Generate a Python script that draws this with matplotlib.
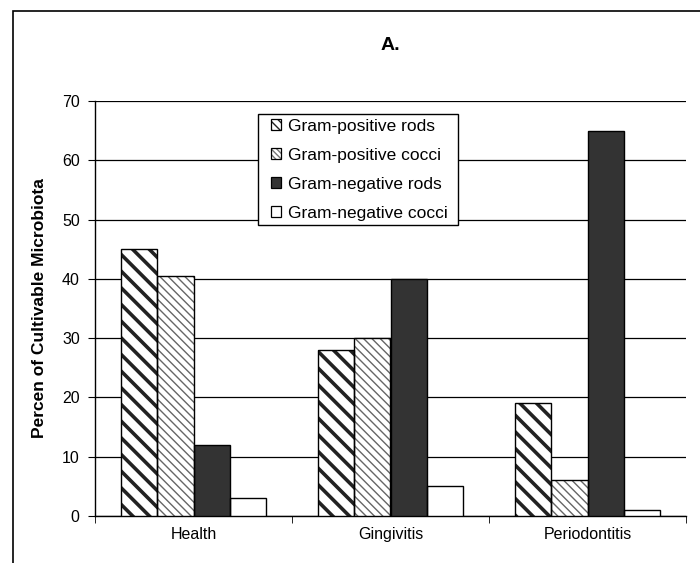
import matplotlib
matplotlib.use("Agg")
import matplotlib.pyplot as plt
from matplotlib.patches import Rectangle
import numpy as np

categories = ["Health", "Gingivitis", "Periodontitis"]
series_names = ["Gram-positive rods", "Gram-positive cocci", "Gram-negative rods", "Gram-negative cocci"]
gp_rods = [45, 28, 19]
gp_cocci = [40.5, 30, 6]
gn_rods = [12, 40, 65]
gn_cocci = [3, 5, 1]
yticks = [0, 10, 20, 30, 40, 50, 60, 70]

plt.rcParams['font.family'] = ['Liberation Sans', 'DejaVu Sans']

fig = plt.figure(figsize=(7, 5.63), dpi=100)
ax = fig.add_axes([95/700, 1-516/563, (686-95)/700, (516-101)/563])

x = np.arange(len(categories))
w = 0.183
styles = [
    dict(facecolor='white', hatch='\\\\', hcolor='#222222', hlw=2.6,
         lhatch='\\\\\\\\', lhc='#222222', llw=1.3),
    dict(facecolor='white', hatch='\\\\\\\\', hcolor='#666666', hlw=1.0,
         lhatch='\\\\\\\\\\\\', lhc='#777777', llw=0.8),
    dict(facecolor='#333333', hatch=None, hcolor='#333333', hlw=1.0,
         lhatch=None, lhc='black', llw=1.0),
    dict(facecolor='white', hatch=None, hcolor='black', hlw=1.0,
         lhatch=None, lhc='black', llw=1.0),
]
data = [gp_rods, gp_cocci, gn_rods, gn_cocci]
handles = []
for i, (vals, st) in enumerate(zip(data, styles)):
    pos = x + (i - 1.5) * w
    b = ax.bar(pos, vals, w, facecolor=st['facecolor'], edgecolor=st['hcolor'],
               hatch=st['hatch'], linewidth=0, zorder=3)
    for p in b.patches:
        try:
            p.set_hatch_linewidth(st['hlw'])
        except Exception:
            pass
    ax.bar(pos, vals, w, fill=False, edgecolor='black', linewidth=1.0, zorder=4)
    h = Rectangle((0, 0), 1, 1, facecolor=st['facecolor'], edgecolor='black',
                  linewidth=0.9, hatch=st['lhatch'])
    try:
        h._hatch_color = matplotlib.colors.to_rgba(st['lhc'])
        h.set_hatch_linewidth(st['llw'])
    except Exception:
        pass
    handles.append(h)

ax.set_xlim(-0.5, 2.5)
ax.set_ylim(0, 70)
ax.set_yticks(yticks)
ax.yaxis.grid(True, color='black', linewidth=0.9, zorder=0)
ax.set_axisbelow(True)
for s in ['top', 'right']:
    ax.spines[s].set_visible(False)
ax.spines['left'].set_linewidth(1.0)
ax.spines['bottom'].set_linewidth(1.0)
ax.set_xticks(x)
ax.set_xticklabels(categories, fontsize=11.5)
ax.tick_params(axis='x', which='major', length=0, pad=8)
ax.set_xticks([-0.5, 0.5, 1.5, 2.5], minor=True)
ax.tick_params(axis='x', which='minor', length=5, direction='out')
ax.tick_params(axis='y', length=5, direction='out', labelsize=11.5, pad=6)

ax.set_ylabel("Percen of Cultivable Microbiota", fontsize=12.5, fontweight='bold', labelpad=11)
fig.text(390/700, 1 - 45/563, "A.", fontsize=14, fontweight='bold', ha='center', va='center')

# legend frame
ax_w, ax_h = 591.0, 415.0
frame = Rectangle(((258-95)/ax_w, (516-225)/ax_h), 200/ax_w, 111/ax_h,
                  transform=ax.transAxes, facecolor='white', edgecolor='black',
                  linewidth=1.0, zorder=9, clip_on=False)
ax.add_patch(frame)

leg = ax.legend(handles, series_names, loc='upper left',
                bbox_to_anchor=((271-95)/ax_w, (516-119)/ax_h), borderaxespad=0,
                fontsize=12.5, frameon=False,
                handlelength=0.6, handleheight=0.6, handletextpad=0.4,
                labelspacing=0.8, borderpad=0)
leg.set_zorder(10)

fig.patches.append(Rectangle((13/700, -0.2), 1.2, 1.2 - 11/563, transform=fig.transFigure,
                             fill=False, edgecolor='black', linewidth=1.2))

fig.savefig("out.png", dpi=100)
